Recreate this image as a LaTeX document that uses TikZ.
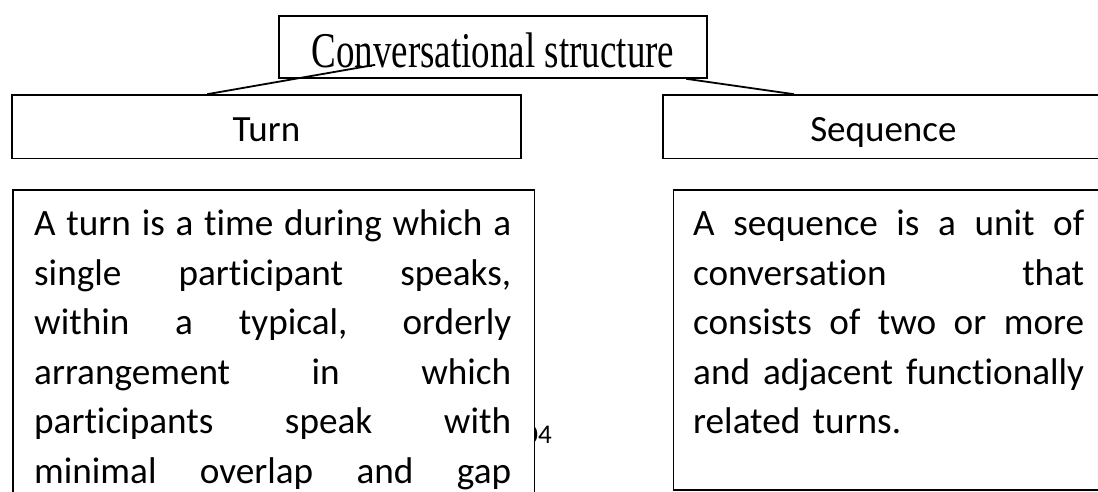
\documentclass[tikz,border=0pt]{standalone}
\usepackage{fontspec}
\usepackage{graphicx}
\setmainfont{Carlito}[Ligatures=NoCommon]
\newfontfamily\titlefont{Liberation Serif}
% one fully justified line: interword spaces stretch to fill the given width
\newcommand{\jline}[2]{\hbox to #1{\spaceskip=\fontdimen2\font plus 1fil minus 0.4\fontdimen2\font\relax #2}}
\begin{document}
\begin{tikzpicture}[x=1pt,y=-1pt,
  frame/.style={draw=black,line width=1.6pt,fill=white,inner sep=0pt},
  link/.style={draw=black,line width=1.8pt},
  label/.style={font=\fontsize{37}{44}\selectfont,text height=30pt,text depth=0pt},
  bodytext/.style={anchor=base west,inner sep=0pt,align=left,
    font=\fontsize{37.2}{49.5}\selectfont}]
\useasboundingbox (0,0) rectangle (1098,491);
\fill[white] (0,0) rectangle (1098,491);

% page number, mostly hidden behind the left text box
\node[anchor=base east,inner sep=0pt,font=\fontsize{27}{30}\selectfont] (pageno) at (552,443) {04};

% title box
\node[frame,minimum width=428pt,minimum height=62pt,text height=40pt,text depth=0pt] (top) at (493,47)
  {\scalebox{0.74}[1]{\titlefont\fontsize{50}{54}\selectfont Conversational structure}};

% category boxes
\node[frame,label,minimum width=509pt,minimum height=63.5pt] (turnbox) at (266.5,126.75) {Turn};
\node[frame,label,minimum width=441.3pt,minimum height=63.5pt] (seqbox) at (883.35,126.75) {Sequence};

% definition boxes
\node[frame,anchor=north west,minimum width=521.5pt,minimum height=380pt] (turndef) at (12,189) {};
\node[frame,anchor=north west,minimum width=431.3pt,minimum height=300pt] (seqdef) at (672.7,189) {};

\node[bodytext,text width=477pt] (turntext) at (34,235.5) {%
\jline{477pt}{A turn is a time during which a}
\jline{477pt}{single participant speaks,}
\jline{477pt}{within a typical, orderly}
\jline{477pt}{arrangement in which}
\jline{477pt}{participants speak with}
\jline{477pt}{minimal overlap and gap}};

\node[bodytext,text width=391pt] (seqtext) at (693,235.5) {%
\jline{391pt}{A sequence is a unit of}
\jline{391pt}{conversation that}
\jline{391pt}{consists of two or more}
\jline{391pt}{and adjacent functionally}
\hbox{related turns.}};

% connectors from the title to the two categories
\coordinate (tstart) at ([xshift=97pt,yshift=14pt]top.south west);
\draw[link] (tstart) -- ([xshift=196pt]turnbox.north west);
\draw[link] ([xshift=408pt]top.south west) -- ([xshift=132pt]seqbox.north west);
\end{tikzpicture}
\end{document}
